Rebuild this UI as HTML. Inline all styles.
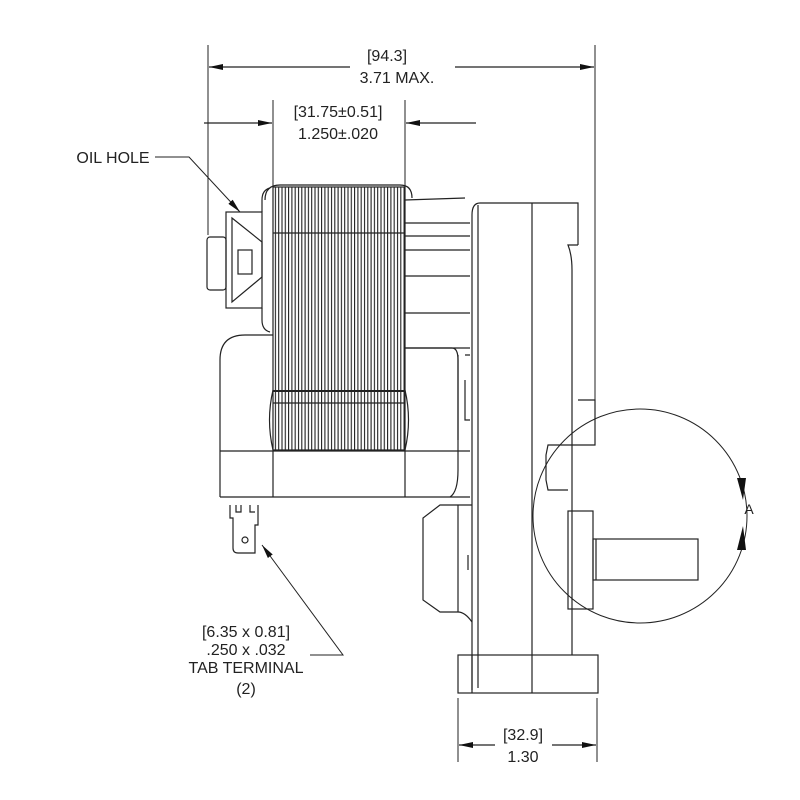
<!DOCTYPE html>
<html><head><meta charset="utf-8"><style>
html,body{margin:0;padding:0;background:#fff}
svg{display:block}
text{font-family:"Liberation Sans",sans-serif;fill:#222}
</style></head><body>
<svg width="800" height="800" viewBox="0 0 800 800" xmlns="http://www.w3.org/2000/svg">
<defs>
<pattern id="lam" width="3.3" height="10" patternUnits="userSpaceOnUse">
<line x1="1.5" y1="0" x2="1.5" y2="10" stroke="#222" stroke-width="1.1"/>
</pattern>
<marker id="ah" markerWidth="14" markerHeight="8" refX="14" refY="4" orient="auto" markerUnits="userSpaceOnUse">
<path d="M0,1 L14,4 L0,7 z" fill="#111"/>
</marker>
</defs>
<g fill="none" stroke="#222" stroke-width="1.2">
<line x1="208" y1="45" x2="208" y2="235" stroke-width="1"/>
<line x1="595" y1="45" x2="595" y2="400" stroke-width="1"/>
<line x1="350" y1="67" x2="209" y2="67" marker-end="url(#ah)"/>
<line x1="455" y1="67" x2="594" y2="67" marker-end="url(#ah)"/>
<line x1="273" y1="100" x2="273" y2="187" stroke-width="1"/>
<line x1="405" y1="100" x2="405" y2="187" stroke-width="1"/>
<line x1="204" y1="123" x2="272" y2="123" marker-end="url(#ah)"/>
<line x1="476" y1="123" x2="406" y2="123" marker-end="url(#ah)"/>
<polyline points="155,157 189,157 240,212" marker-end="url(#ah)" stroke-width="1"/>
<rect x="207" y="237" width="19" height="53" rx="3"/>
<rect x="226" y="212" width="36" height="96"/>
<polygon points="232,218 262,242 262,277 232,302"/>
<rect x="238" y="250" width="14" height="24"/>
<path d="M262,212 V200 Q262,190 270,188 M262,308 V320 Q262,330 270,332"/>
<rect x="273" y="187" width="132" height="263" fill="url(#lam)"/>
<path d="M265,200 Q265,185 280,185 H400 Q412,185 412,198"/>
<line x1="273" y1="233" x2="405" y2="233"/>
<line x1="273" y1="391" x2="405" y2="391" stroke-width="2"/>
<line x1="273" y1="403" x2="405" y2="403"/>
<path d="M273,390 Q266,420 273,450 M405,390 Q412,420 405,450"/>
<path d="M220,497 V360 Q220,335 245,335 H273"/>
<line x1="220" y1="451" x2="470" y2="451"/>
<line x1="220" y1="497" x2="470" y2="497"/>
<line x1="273" y1="451" x2="273" y2="497"/>
<line x1="405" y1="451" x2="405" y2="497"/>
<path d="M405,348 H452 Q458,348 458,360 V470 Q458,492 450,497"/>
<path d="M405,200 L465,198 M405,223 L470,223 M405,236 L470,236 M405,250 L470,250 M405,276 L470,276 M405,313 L470,313 M405,348 L470,348"/>
<path d="M458,355 V440 M465,355 H470 M465,380 V420 H470"/>
<path d="M472,690 V215 Q472,203 480,203 H578 V245"/>
<line x1="478" y1="205" x2="478" y2="688"/>
<line x1="532" y1="203" x2="532" y2="693"/>
<path d="M578,245 H568 Q572,255 572,270 V655"/>
<path d="M578,400 H595 V445 H568"/>
<path d="M568,445 H548 L546,455 V480 L548,490 H568"/>
<rect x="458" y="655" width="140" height="38"/>
<line x1="472" y1="655" x2="472" y2="693"/>
<path d="M472,505 H440 L423,518 V600 L440,612 H458 Q465,612 472,622"/>
<line x1="458" y1="505" x2="458" y2="612"/>
<line x1="468" y1="555" x2="468" y2="570"/>
<rect x="568" y="511" width="25" height="98"/>
<rect x="593" y="539" width="105" height="41"/>
<line x1="596" y1="539" x2="596" y2="580"/>
<circle cx="640" cy="516" r="107" stroke-width="1"/>
<path d="M737,478 L746,478 L743,500 z M737,550 L746,550 L743,526 z" fill="#111" stroke="none"/>
<line x1="458" y1="698" x2="458" y2="762" stroke-width="1"/>
<line x1="597" y1="698" x2="597" y2="762" stroke-width="1"/>
<line x1="495" y1="745" x2="459" y2="745" marker-end="url(#ah)"/>
<line x1="552" y1="745" x2="596" y2="745" marker-end="url(#ah)"/>
<path d="M230,505 V518 H233 V548 Q233,553 238,553 H255 V525 H258 V505 M236,505 V512 H241 V505 M250,505 V512 H255"/>
<circle cx="245" cy="540" r="3"/>
<polyline points="310,655 343,655 262,545" marker-end="url(#ah)" stroke-width="1"/>
</g>
<g font-size="16" text-anchor="middle">
<text x="387" y="61">[94.3]</text>
<text x="397" y="83">3.71  MAX.</text>
<text x="338" y="117">[31.75±0.51]</text>
<text x="338" y="139">1.250±.020</text>
<text x="113" y="163">OIL HOLE</text>
<text x="246" y="637">[6.35 x 0.81]</text>
<text x="246" y="655">.250 x .032</text>
<text x="246" y="673">TAB TERMINAL</text>
<text x="246" y="694">(2)</text>
<text x="523" y="740">[32.9]</text>
<text x="523" y="762">1.30</text>
<text x="749" y="514" font-size="14">A</text>
</g>
</svg>
</body></html>
